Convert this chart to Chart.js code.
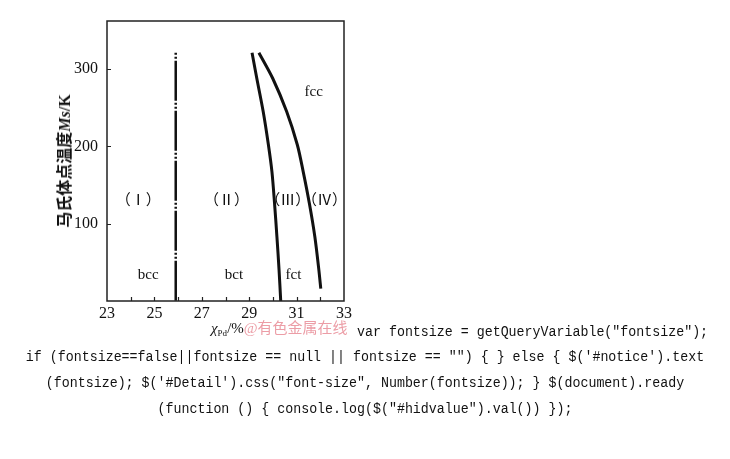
<!DOCTYPE html>
<html>
<head>
<meta charset="utf-8">
<script src="https://cdn.jsdelivr.net/npm/chart.js@4/dist/chart.umd.min.js"></script>
<style>
  html, body { margin: 0; padding: 0; background: #fff; }
  #wrap { position: relative; width: 730px; height: 459px; overflow: hidden; }
  #c { position: absolute; left: 0; top: 0; }
  .ytitle { position: absolute; left: 63px; top: 161px; transform: translate(-50%, -50%) rotate(-90deg);
    white-space: nowrap; font-family: "Liberation Serif", "Noto Sans CJK SC", serif; font-size: 16px; font-weight: 600; color: #111; }
  .xtitle { position: absolute; left: 211px; top: 318px; white-space: nowrap;
    font-family: "Liberation Serif", "Noto Sans CJK SC", serif; font-size: 15px; color: #111; line-height: 20px; }
  .xtitle sub { font-size: 9px; vertical-align: -3px; }
  .wm { color: #ec9da6; font-size: 15px; }
  .code { position: absolute; white-space: pre; font-family: "Liberation Mono", monospace; font-size: 13.3px;
    color: #111; line-height: 20px; transform: scaleY(1.15); }
  .center { left: 0; width: 730px; text-align: center; }
</style>
</head>
<body>
<div id="wrap">
  <canvas id="c" width="730" height="459"></canvas>
  <div class="ytitle">马氏体点温度<i>Ms</i>/K</div>
  <div class="xtitle"><i>χ</i><sub>Pd</sub>/%<span class="wm">@有色金属在线</span></div>
  <div class="code" style="left:357px; top:323px;">var fontsize = getQueryVariable("fontsize");</div>
  <div class="code center" style="top:348px;">if (fontsize==false||fontsize == null || fontsize == "") { } else { $('#notice').text</div>
  <div class="code center" style="top:374px;">(fontsize); $('#Detail').css("font-size", Number(fontsize)); } $(document).ready</div>
  <div class="code center" style="top:400px;">(function () { console.log($("#hidvalue").val()) });</div>
</div>
<script>
// ---- data ----
const xTicks = [23, 25, 27, 29, 31, 33];
const xMinorTicks = [24, 25, 26, 27, 28, 29, 30, 31, 32];
const yTicks = [100, 200, 300];

// boundary I/II (dash-dot vertical line)
const boundary1X = [25.9, 25.9];
const boundary1Y = [321, 0];

// boundary II/III
const boundary2X = [29.12, 29.32, 29.59, 29.81, 29.96, 30.07, 30.17, 30.26, 30.33];
const boundary2Y = [321, 288, 245, 202, 167, 126, 83, 40, 0];

// boundary III/IV
const boundary3X = [29.41, 29.99, 30.58, 31.03, 31.28, 31.54, 31.77, 31.94, 32.02];
const boundary3Y = [321, 288, 245, 202, 167, 126, 83, 40, 16];

// region labels
const regionText = ['（Ⅰ）', '（Ⅱ）', '（Ⅲ）', '（Ⅳ）', 'bcc', 'bct', 'fct', 'fcc'];
const regionX = [24.32, 28.04, 30.63, 32.18, 24.74, 28.36, 30.87, 31.72];
const regionY = [129, 129, 129, 129, 34, 34, 34, 270];

const toPts = (xs, ys) => xs.map((x, i) => ({ x: x, y: ys[i] }));

const frame = {
  id: 'frame',
  afterDraw(chart) {
    const { ctx, chartArea: a, scales } = chart;
    const xs = scales.x, ys = scales.y;
    ctx.save();
    ctx.strokeStyle = '#222';
    ctx.lineWidth = 1.5;
    ctx.strokeRect(a.left, a.top, a.right - a.left, a.bottom - a.top);
    ctx.beginPath();
    xMinorTicks.forEach(v => {
      const px = Math.round(xs.getPixelForValue(v)) + 0.5;
      ctx.moveTo(px, a.bottom);
      ctx.lineTo(px, a.bottom - 4);
    });
    yTicks.forEach(v => {
      const py = Math.round(ys.getPixelForValue(v)) + 0.5;
      ctx.moveTo(a.left, py);
      ctx.lineTo(a.left + 4, py);
    });
    ctx.lineWidth = 1.2;
    ctx.stroke();
    // region labels
    ctx.fillStyle = '#111';
    ctx.textAlign = 'center';
    ctx.textBaseline = 'middle';
    regionText.forEach((t, i) => {
      ctx.font = '15px "Liberation Serif", "Noto Sans CJK SC", serif';
      ctx.fillText(t, xs.getPixelForValue(regionX[i]), ys.getPixelForValue(regionY[i]));
    });
    ctx.restore();
  }
};

new Chart(document.getElementById('c'), {
  type: 'scatter',
  data: {
    datasets: [
      { data: toPts(boundary1X, boundary1Y), showLine: true, borderColor: '#111', borderWidth: 2.5,
        borderDash: [2, 2, 2, 2, 40, 2], pointRadius: 0, tension: 0 },
      { data: toPts(boundary2X, boundary2Y), showLine: true, borderColor: '#111', borderWidth: 3,
        pointRadius: 0, tension: 0.3 },
      { data: toPts(boundary3X, boundary3Y), showLine: true, borderColor: '#111', borderWidth: 3,
        pointRadius: 0, tension: 0.3 }
    ]
  },
  options: {
    responsive: false,
    animation: false,
    layout: { padding: { top: 21, right: 386, left: 0, bottom: 0 } },
    plugins: { legend: { display: false }, tooltip: { enabled: false } },
    scales: {
      x: {
        type: 'linear', min: 23, max: 33,
        grid: { display: false, drawTicks: false },
        border: { display: false },
        afterBuildTicks: s => { s.ticks = xTicks.map(v => ({ value: v })); },
        afterFit: s => { s.height = 158; },
        ticks: { padding: 3, color: '#111', maxRotation: 0, autoSkip: false,
          font: { family: '"Liberation Serif", serif', size: 16 } }
      },
      y: {
        type: 'linear', min: 0, max: 362,
        grid: { display: false, drawTicks: false },
        border: { display: false },
        afterBuildTicks: s => { s.ticks = yTicks.map(v => ({ value: v })); },
        afterFit: s => { s.width = 107; },
        ticks: { padding: 9, color: '#111', autoSkip: false,
          font: { family: '"Liberation Serif", serif', size: 16 } }
      }
    }
  },
  plugins: [frame]
});
</script>
</body>
</html>
